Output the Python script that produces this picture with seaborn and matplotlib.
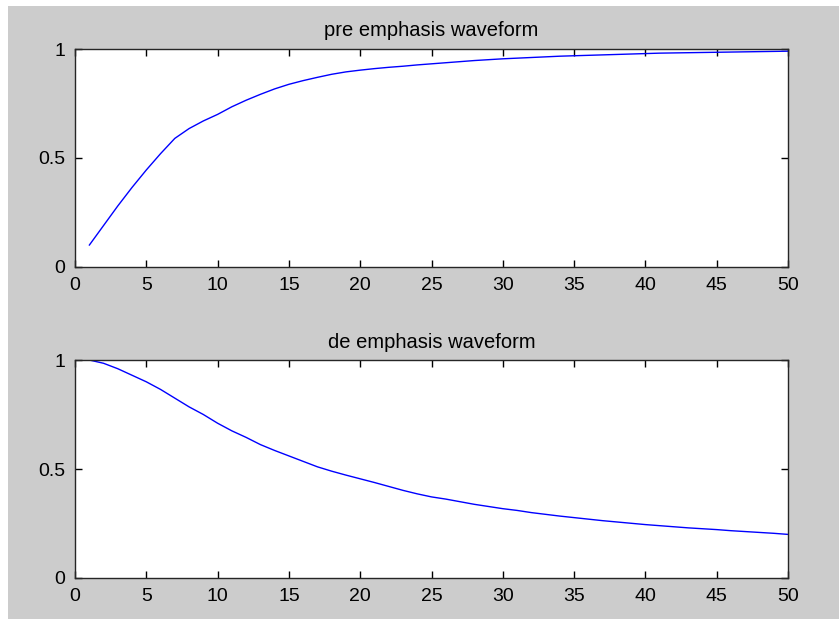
import numpy as np
import matplotlib
matplotlib.use("Agg")
import matplotlib.pyplot as plt
import seaborn as sns
from matplotlib.patches import Rectangle

# sample index 1..50
n = list(range(1, 51))

# pre emphasis waveform
pre_emphasis = [
    0.10, 0.19, 0.28, 0.365, 0.445, 0.52, 0.59, 0.635, 0.67, 0.70,
    0.735, 0.765, 0.792, 0.817, 0.838, 0.855, 0.87, 0.884, 0.895, 0.903,
    0.91, 0.916, 0.921, 0.927, 0.932, 0.937, 0.942, 0.947, 0.951, 0.955,
    0.958, 0.961, 0.964, 0.967, 0.969, 0.971, 0.973, 0.975, 0.977, 0.979,
    0.981, 0.982, 0.983, 0.984, 0.985, 0.986, 0.987, 0.988, 0.989, 0.99,
]

# de emphasis waveform
de_emphasis = [
    1.00, 0.985, 0.96, 0.93, 0.90, 0.865, 0.825, 0.785, 0.75, 0.71,
    0.675, 0.645, 0.612, 0.585, 0.56, 0.535, 0.51, 0.49, 0.472, 0.455,
    0.438, 0.42, 0.402, 0.386, 0.372, 0.362, 0.35, 0.338, 0.328, 0.318,
    0.31, 0.30, 0.292, 0.284, 0.277, 0.27, 0.263, 0.257, 0.251, 0.245,
    0.24, 0.235, 0.23, 0.226, 0.222, 0.217, 0.213, 0.209, 0.205, 0.20,
]

titles = ["pre emphasis waveform", "de emphasis waveform"]
xticks = list(range(0, 51, 5))
yticks = [0, 0.5, 1]
ytick_labels = ["0", "0.5", "1"]

sns.set_style("ticks")
plt.rcParams["font.family"] = ["Liberation Sans", "DejaVu Sans"]

W, H = 839, 619
fig = plt.figure(figsize=(W / 100, H / 100), dpi=100, facecolor="white")
# gray MATLAB-like window background
fig.patches.append(Rectangle((8 / W, 0), 1 - 8 / W, (H - 6) / H,
                             transform=fig.transFigure, facecolor="#cccccc",
                             edgecolor="none", zorder=-10))

left, width, height = 75 / W, (788 - 75) / W, (267 - 49) / H
ax_top = fig.add_axes([left, 1 - 267 / H, width, height])
ax_bot = fig.add_axes([left, 1 - 578 / H, width, height])

for ax, y, title in zip([ax_top, ax_bot], [pre_emphasis, de_emphasis], titles):
    sns.lineplot(x=n, y=y, ax=ax, color="#0000ff", linewidth=1.0)
    ax.set_facecolor("white")
    ax.set_xlim(0, 50)
    ax.set_ylim(0, 1)
    ax.set_xticks(xticks)
    ax.set_xticklabels([str(t) for t in xticks])
    ax.set_yticks(yticks)
    ax.set_yticklabels(ytick_labels)
    ax.tick_params(direction="in", length=5, width=1, colors="black",
                   labelsize=14, pad=7, top=True, right=True)
    for s in ax.spines.values():
        s.set_visible(True)
        s.set_color("#262626")
        s.set_linewidth(1.0)
    ax.set_title(title, fontsize=14.5, pad=9, color="black")
    ax.set_xlabel("")
    ax.set_ylabel("")

fig.savefig("out.png", dpi=100, facecolor=fig.get_facecolor())
